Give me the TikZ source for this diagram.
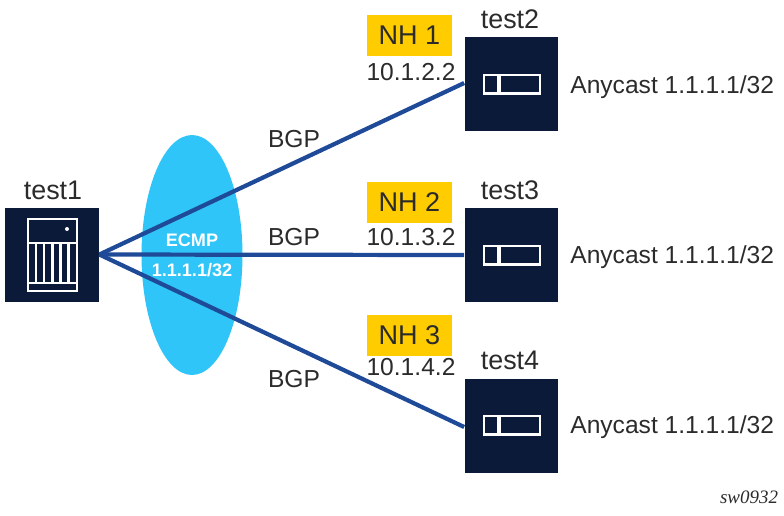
\documentclass[tikz,border=0pt]{standalone}
\usepackage{fontspec}
\usetikzlibrary{shapes.geometric}
\setmainfont{Liberation Sans}
\newfontfamily\tagfont{Liberation Serif}
\definecolor{boxnavy}{HTML}{0A1A38}
\definecolor{linkblue}{HTML}{1F4A98}
\definecolor{ecmpcyan}{HTML}{30C5F8}
\definecolor{nhyellow}{HTML}{FFCC00}
\definecolor{labelgray}{HTML}{2B2B2B}
\tikzset{
  router/.style={fill=boxnavy,minimum size=1.88cm,inner sep=0pt},
  nhtag/.style={fill=nhyellow,text=labelgray,minimum width=1.7cm,minimum height=0.82cm,inner sep=0pt,font=\fontsize{15.4}{17}\selectfont},
  lbl/.style={text=labelgray,inner sep=0pt,font=\fontsize{14}{16}\selectfont},
  namelbl/.style={text=labelgray,inner sep=0pt,font=\fontsize{15.3}{17}\selectfont},
  ecmplbl/.style={text=white,inner sep=0pt,font=\fontsize{10.3}{12}\selectfont\bfseries},
  link/.style={draw=linkblue,line width=2.4pt},
  icon/.style={draw=white,line width=1.6pt}
}
\begin{document}
\begin{tikzpicture}[x=0.02cm,y=-0.02cm]
\useasboundingbox (0,0) rectangle (784,515);
% ecmp oval
\node[ellipse,fill=ecmpcyan,minimum width=2.02cm,minimum height=4.8cm,inner sep=0pt] (oval) at (192,255) {};
% routers
\node[router] (test1) at (52,254.5) {};
\node[router] (test2) at (511.5,84) {};
\node[router] (test3) at (511.5,255) {};
\node[router] (test4) at (511.5,425.5) {};
% links
\draw[link] (test1.east) -- ([yshift=0.02cm]test2.west);
\draw[link] (test1.east) -- (test3.west);
\draw[link] (test1.east) -- ([yshift=-0.03cm]test4.west);
% chassis icon
\draw[icon] (28,219) rectangle (77,291);
\draw[icon] (28,243) -- (77,243);
\draw[icon] (28,283) -- (77,283);
\foreach \x in {36,44,52.3,60.3,68.3}
  \draw[icon] (\x,243) -- (\x,283);
\fill[white] (67,229) circle (2);
% card icons
\foreach \y in {84,255,425} {
  \draw[icon] (484,\y-9) rectangle (540,\y+9.5);
  \draw[icon,line width=2.2pt] (499,\y-9) -- (499,\y+9.5);
}
% labels
\node[namelbl] (name1) at (53,190) {test1};
\node[namelbl] (name2) at (510,19) {test2};
\node[namelbl] (name3) at (510,190) {test3};
\node[namelbl] (name4) at (510,360) {test4};
\node[nhtag] (nh1) at (409.5,35.5) {NH 1};
\node[nhtag] (nh2) at (409.5,202) {NH 2};
\node[nhtag] (nh3) at (409.5,335) {NH 3};
\node[lbl] (ip1) at (411,72) {10.1.2.2};
\node[lbl] (ip2) at (411,237) {10.1.3.2};
\node[lbl] (ip3) at (411,367) {10.1.4.2};
\node[lbl] (bgp1) at (294,139) {BGP};
\node[lbl] (bgp2) at (294,237) {BGP};
\node[lbl] (bgp3) at (294,379) {BGP};
\node[lbl,anchor=west] (any1) at (570,87) {Anycast 1.1.1.1/32};
\node[lbl,anchor=west] (any2) at (570,257) {Anycast 1.1.1.1/32};
\node[lbl,anchor=west] (any3) at (570,427) {Anycast 1.1.1.1/32};
\node[ecmplbl] (ecmp) at (192,240) {ECMP};
\node[ecmplbl] (ecmpip) at (192,270) {1.1.1.1/32};
\node[text=labelgray,inner sep=0pt,font=\tagfont\itshape\fontsize{10.8}{12}\selectfont] (tag) at (749,497) {sw0932};
\end{tikzpicture}
\end{document}
